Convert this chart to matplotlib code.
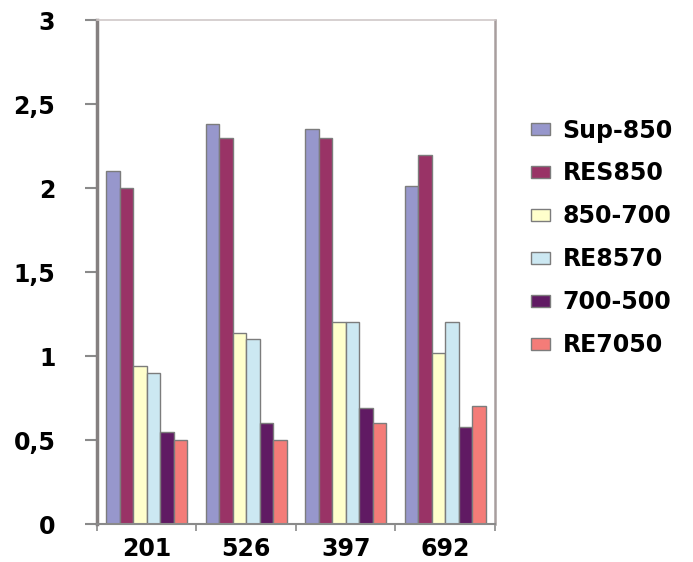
import numpy as np
import matplotlib
matplotlib.use('Agg')
import matplotlib.pyplot as plt

# stations on the x axis and one series per layer
stations = ['201', '526', '397', '692']
series = ['Sup-850', 'RES850', '850-700', 'RE8570', '700-500', 'RE7050']

sup_850 = [2.10, 2.38, 2.35, 2.01]
res850 = [2.00, 2.30, 2.30, 2.20]
l850_700 = [0.94, 1.14, 1.20, 1.02]
re8570 = [0.90, 1.10, 1.20, 1.20]
l700_500 = [0.55, 0.60, 0.69, 0.58]
re7050 = [0.50, 0.50, 0.60, 0.70]

yticks = [0, 0.5, 1, 1.5, 2, 2.5, 3]
ytick_labels = ['0', '0,5', '1', '1,5', '2', '2,5', '3']

colors = ['#9797CC', '#993366', '#FFFFCC', '#CCE8F2', '#601A63', '#F47C78']
values = [sup_850, res850, l850_700, re8570, l700_500, re7050]

plt.rcParams['font.family'] = ['DejaVu Sans']
plt.rcParams['font.weight'] = 'bold'

fig = plt.figure(figsize=(6.93, 5.62), dpi=100)
ax = fig.add_axes([0.140, 0.0676, 0.574, 0.8964])

x = np.arange(len(stations))
n = len(series)
bw = 0.815 / n
for i, (name, vals) in enumerate(zip(series, values)):
    pos = x - 0.815 / 2 + bw * (i + 0.5)
    ax.bar(pos, vals, width=bw, color=colors[i], edgecolor='#7c7c7c',
           linewidth=1.0, label=name, zorder=2)

ax.set_xlim(-0.5, len(stations) - 0.5)
ax.set_ylim(0, 3)

ax.set_yticks(yticks)
ax.set_yticklabels(ytick_labels, fontsize=17, fontweight='bold')
ax.tick_params(axis='y', length=9, width=1.5, color='#8a8a8a', pad=21)

# category labels centred, small ticks on the group boundaries
ax.set_xticks(x)
ax.set_xticklabels(stations, fontsize=17, fontweight='bold')
ax.tick_params(axis='x', length=0, pad=9)
ax.set_xticks(np.arange(-0.5, len(stations)), minor=True)
ax.tick_params(axis='x', which='minor', length=5, width=1.2, color='#8a8a8a')

ax.spines['left'].set_color('#858080')
ax.spines['left'].set_linewidth(2.5)
ax.spines['bottom'].set_color('#8a8a8a')
ax.spines['bottom'].set_linewidth(1.5)
ax.spines['top'].set_color('#d0c8c8')
ax.spines['top'].set_linewidth(1.2)
ax.spines['right'].set_color('#a89e9e')
ax.spines['right'].set_linewidth(1.8)

leg = fig.legend(loc='upper left', bbox_to_anchor=(0.749, 0.81),
                 frameon=False, prop={'weight': 'bold', 'size': 17},
                 handlelength=0.8, handleheight=0.4, handletextpad=0.55,
                 labelspacing=0.8, borderpad=0)

fig.savefig('out.png', dpi=100, facecolor='white')
